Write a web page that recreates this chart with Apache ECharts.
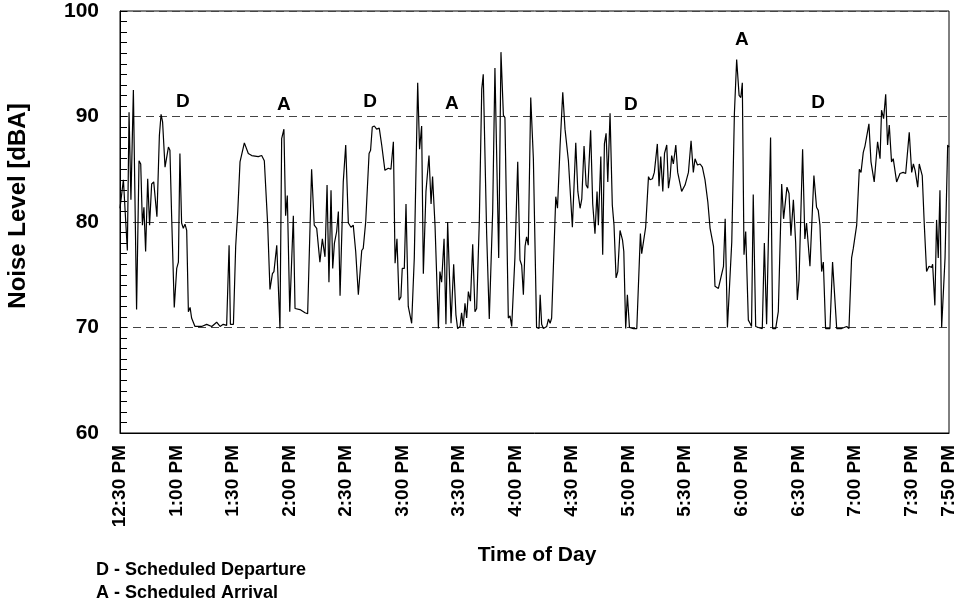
<!DOCTYPE html>
<html>
<head>
    <meta charset="utf-8">
    <title>Noise Level vs Time of Day</title>
    <script src="https://cdn.jsdelivr.net/npm/echarts@6.0.0/dist/echarts.min.js"></script>
    <style>
        html, body { margin: 0; padding: 0; background: #fff; }
    </style>
</head>
<body>
    <div id="chart" style="width: 960px;height:607px;"></div>
    <script type="text/javascript">
        // x positions are minutes after 12:30 PM
        var xTickMinutes = [0, 30, 60, 90, 120, 150, 180, 210, 240, 270, 300, 330, 360, 390, 420, 440];
        var xTickLabels = ['12:30 PM', '1:00 PM', '1:30 PM', '2:00 PM', '2:30 PM', '3:00 PM', '3:30 PM', '4:00 PM',
            '4:30 PM', '5:00 PM', '5:30 PM', '6:00 PM', '6:30 PM', '7:00 PM', '7:30 PM', '7:50 PM'];

        // [minute, dBA]
        var noiseReadings = [
            [0.0,81.3],[1.8,84.0],[3.9,77.3],[4.8,90.4],[5.8,82.1],[7.1,92.5],[8.0,92.5],[8.8,71.7],[10.1,85.8],[11.0,85.5],
            [11.9,79.7],[12.7,81.4],[13.6,77.2],[14.7,84.1],[15.7,79.7],[16.8,83.6],[17.9,83.8],[19.6,80.5],[20.9,88.2],[21.8,90.2],
            [22.6,89.5],[23.9,85.2],[24.8,85.1],[25.7,87.1],[26.5,86.8],[27.4,80.6],[28.8,71.9],[30.1,75.6],[31.0,76.2],[31.8,86.5],
            [32.7,79.9],[33.6,79.4],[34.5,79.8],[35.4,79.2],[36.3,71.5],[37.2,71.9],[38.0,70.9],[39.8,70.1],[43.3,70.1],[46.0,70.3],
            [48.7,70.1],[51.3,70.5],[53.1,70.1],[54.8,70.3],[56.6,70.2],[57.9,77.8],[58.6,70.3],[60.2,70.3],[61.4,77.7],[62.5,81.0],
            [63.7,85.7],[64.6,85.7],[66.0,87.5],[66.7,87.5],[68.1,86.5],[69.9,86.3],[73.4,86.2],[75.2,86.3],[76.6,85.8],[78.4,79.7],
            [79.6,73.6],[80.9,75.1],[81.7,75.3],[83.2,77.8],[84.0,77.7],[84.9,69.9],[85.8,87.9],[87.0,88.8],[87.9,80.6],[88.8,82.5],
            [90.1,71.5],[92.0,80.6],[92.9,71.8],[95.5,71.7],[98.2,71.4],[99.6,71.3],[101.7,85.0],[103.1,79.7],[104.4,79.4],[104.9,79.5],
            [106.1,76.2],[107.4,78.4],[108.8,76.7],[109.9,83.5],[110.9,74.3],
            [112.0,83.0],[112.9,75.6],[113.8,78.0],[115.0,79.1],[115.9,81.0],[116.8,73.0],[118.5,83.8],[119.8,87.3],[121.2,79.9],[122.6,79.5],
            [123.8,79.7],[125.1,77.2],[126.5,73.1],[128.3,77.3],[129.1,77.5],[130.4,80.0],[132.2,86.5],[133.0,86.8],[133.9,89.0],[135.0,89.1],
            [136.2,88.8],[137.6,88.9],[138.9,87.3],[140.6,84.9],[142.4,85.1],[143.8,85.0],[145.1,87.6],[146.0,76.1],[147.0,78.4],[148.1,72.6],
            [149.1,72.9],[149.8,75.6],[150.9,75.6],[151.8,81.7],[153.0,72.0],[154.8,70.4],[156.2,76.6],[158.0,93.2],[159.0,86.9],[160.1,89.1],
            [161.0,75.1],[162.4,82.9],[164.0,86.3],[165.1,81.7],[165.9,84.3],[167.2,79.7],[169.0,69.9],[169.8,75.3],[170.7,74.3],[172.0,78.4],
            [173.0,70.3],[173.9,80.0],[174.6,80.0],[175.7,70.4],[177.1,76.0],[178.3,71.2],[179.2,69.9],[180.5,70.1],[181.3,71.4],[182.2,70.1],
            [183.1,72.3],[184.0,70.9],[184.9,73.4],[186.0,72.5],[187.2,77.9],[188.4,71.5],[189.3,71.8],[190.7,80.0],[192.0,92.6],[192.8,94.0],
            [194.6,78.9],[196.0,70.8],[197.8,81.0],[199.0,94.6],[201.0,76.6],[202.2,96.1],[203.5,90.1],[204.3,89.9],[206.1,70.9],[207.0,71.1],
            [207.9,70.1],[209.6,76.6],[211.1,85.7],[212.3,76.4],[213.2,75.9],[214.1,73.1],[215.0,77.7],[215.8,78.6],[216.7,77.8],[218.0,91.8],
            [219.4,86.0],[221.1,70.0],[222.4,69.9],
            [223.0,73.1],[223.8,70.3],[224.7,69.9],[226.5,70.1],[227.4,70.8],[228.3,70.4],[229.1,70.9],[231.3,82.4],[232.2,81.3],[233.6,87.3],
            [235.0,92.3],[236.2,88.8],[238.0,85.8],[240.1,79.5],[241.9,87.5],[243.0,82.9],[244.2,81.3],[245.1,82.2],[246.3,87.2],[247.4,83.5],
            [248.3,83.2],[249.8,88.7],[250.9,81.7],[252.1,78.9],[253.2,82.9],[253.9,79.7],[255.2,86.2],[256.2,76.9],[257.1,87.4],[258.0,88.4],
            [258.9,83.8],[260.1,90.3],[261.3,81.6],[262.2,79.7],[263.3,74.7],[264.2,75.3],[265.4,79.2],[266.7,78.3],[267.4,77.2],[268.4,69.9],
            [269.3,73.1],[270.4,70.0],[272.5,69.9],[274.3,69.9],[276.2,78.9],[276.9,77.0],[279.0,79.5],[280.5,84.3],[281.3,84.0],[282.6,84.1],
            [283.6,84.7],[285.2,87.4],[286.1,83.4],[287.0,86.2],[288.1,82.9],[289.0,86.5],[290.2,87.3],[291.1,83.2],[292.0,84.3],[292.8,86.3],
            [293.7,85.5],[295.0,87.3],[296.0,84.7],[298.1,82.9],[299.9,83.5],[301.7,84.7],[303.1,87.7],[304.3,84.7],[305.2,86.0],[306.5,85.4],
            [307.9,85.5],[309.1,85.2],[310.5,84.0],[312.0,81.9],[313.2,79.4],[314.1,79.3],[315.0,77.7],[315.8,73.9],[317.6,73.7],[318.5,73.6],
            [320.3,75.8],[321.2,80.3],[322.4,70.0],[322.9,70.1],[324.7,78.1],[326.1,90.3],[327.3,95.4],[328.6,92.0],[329.5,91.8],[330.3,93.2],
            [331.2,76.9],[332.1,79.1],[333.5,70.7],
            [334.4,70.4],[335.2,70.1],[336.1,82.6],[337.4,70.1],[338.8,70.0],[340.9,69.9],[342.0,78.0],[343.2,70.3],[344.1,70.2],[345.3,88.0],
            [346.4,69.9],[348.0,69.9],[349.4,71.5],[351.2,83.6],[352.2,80.3],[354.0,83.3],[355.1,82.7],[356.1,78.7],[357.4,82.1],[358.6,78.1],
            [359.5,72.6],[360.4,74.5],[361.2,74.5],[362.3,86.9],[363.5,78.4],[364.4,79.9],[366.2,75.8],[368.3,84.4],[369.7,81.4],[370.6,81.1],
            [371.5,79.7],[372.4,75.3],[373.3,76.2],[374.5,69.9],[376.8,69.9],[378.2,76.2],[380.4,69.9],[383.0,69.9],[385.7,70.1],[386.9,69.9],
            [388.3,76.6],[389.2,77.5],[391.0,79.7],[392.4,85.0],[393.3,84.7],[394.5,86.6],[395.4,87.2],[396.3,87.1],[397.5,89.3],[398.6,85.7],
            [400.3,83.8],[402.1,87.6],[403.4,86.0],[404.2,90.6],[405.3,89.8],[406.4,92.1],[407.4,87.3],[408.3,89.2],[409.5,85.7],[410.4,86.0],
            [412.2,83.8],[414.0,84.6],[415.7,84.7],[417.0,84.6],[418.9,88.5],[420.2,84.7],[421.1,85.5],[422.0,84.9],[423.4,83.3],[424.2,85.5],
            [425.8,84.4],[426.9,79.7],[428.1,75.3],[429.4,75.8],[430.8,75.7],[431.3,76.0],[432.5,72.1],[433.4,80.2],[434.3,76.6],[435.2,83.0],
            [436.1,70.0],[437.9,76.6],[439.3,87.3],[440.0,87.1]
        ];

        // scheduled departures (D) and arrivals (A)
        var eventLabels = ['D', 'A', 'D', 'A', 'D', 'A', 'D'];
        var eventMinutes = [33.4, 87.0, 132.7, 176.2, 271.2, 330.1, 370.5];
        var eventLevels = [91.4, 91.1, 91.4, 91.2, 91.1, 97.3, 91.3];

        var font = "'Liberation Sans', Arial, sans-serif";

        var option = {
            animation: false,
            backgroundColor: '#fff',
            grid: {
                left: 120, right: 11, top: 11, bottom: 174,
                show: true, borderColor: '#000', borderWidth: 1
            },
            xAxis: {
                type: 'value',
                min: 0,
                max: 440,
                name: 'Time of Day',
                nameLocation: 'middle',
                nameGap: 112,
                nameTextStyle: { fontFamily: font, fontWeight: 'bold', fontSize: 21, color: '#000', padding: [0, 0, 0, 5] },
                axisLine: { show: true, lineStyle: { color: '#000' } },
                axisTick: { show: false },
                splitLine: { show: false },
                axisLabel: {
                    customValues: xTickMinutes,
                    rotate: 90,
                    margin: 12,
                    fontFamily: font,
                    fontWeight: 'bold',
                    fontSize: 19,
                    color: '#000',
                    formatter: function (v) {
                        var i = xTickMinutes.indexOf(v);
                        return i >= 0 ? xTickLabels[i] : '';
                    }
                }
            },
            yAxis: {
                type: 'value',
                min: 60,
                max: 100,
                interval: 10,
                axisLine: { show: true, lineStyle: { color: '#000' } },
                axisTick: { show: true, inside: true, length: 7, lineStyle: { color: '#000' } },
                minorTick: { show: true, splitNumber: 10, length: 7, lineStyle: { color: '#000' } },
                splitLine: { show: true, lineStyle: { color: '#444', type: [8, 5], width: 1 } },
                axisLabel: { margin: 21, fontFamily: font, fontWeight: 'bold', fontSize: 21, color: '#000' }
            },
            series: [
                {
                    name: 'Noise',
                    type: 'line',
                    data: noiseReadings,
                    showSymbol: false,
                    lineStyle: { color: '#000', width: 1.2 },
                    z: 3
                },
                {
                    name: 'Events',
                    type: 'scatter',
                    symbolSize: 0,
                    itemStyle: { opacity: 1, color: '#000' },
                    data: eventLabels.map(function (l, i) {
                        return { name: l, value: [eventMinutes[i], eventLevels[i]] };
                    }),
                    label: {
                        show: true,
                        position: 'inside',
                        formatter: '{b}',
                        fontFamily: font,
                        fontWeight: 'bold',
                        fontSize: 19,
                        color: '#000'
                    },
                    z: 4
                }
            ],
            graphic: [
                {
                    type: 'text', x: 18, y: 206, rotation: Math.PI / 2,
                    style: {
                        text: 'Noise Level [dBA]', font: 'bold 24px ' + font, fill: '#000',
                        align: 'center', verticalAlign: 'middle'
                    }
                },
                {
                    type: 'text', left: 96, top: 561,
                    style: { text: 'D - Scheduled Departure', font: 'bold 18px ' + font, fill: '#000' }
                },
                {
                    type: 'text', left: 96, top: 584,
                    style: { text: 'A - Scheduled Arrival', font: 'bold 18px ' + font, fill: '#000' }
                }
            ]
        };

        var chart = echarts.init(document.getElementById('chart'));
        chart.setOption(option);
    </script>
</body>
</html>
